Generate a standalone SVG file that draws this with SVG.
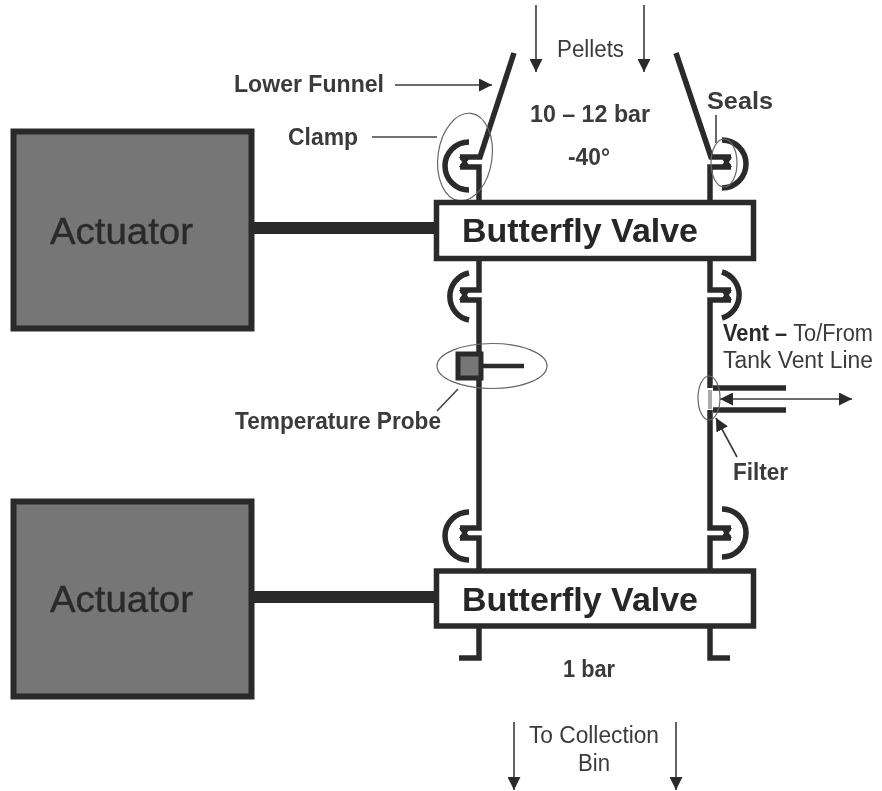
<svg xmlns="http://www.w3.org/2000/svg" width="882" height="791" viewBox="0 0 882 791">
<defs>
<marker id="ah" viewBox="0 0 10 10" refX="10" refY="5" markerWidth="13" markerHeight="13" markerUnits="userSpaceOnUse" orient="auto-start-reverse"><path d="M0 0L10 5L0 10Z" fill="#2b2b2b"/></marker>
<filter id="soft" filterUnits="userSpaceOnUse" x="0" y="0" width="882" height="791"><feGaussianBlur stdDeviation="0.55"/></filter>
</defs>
<style>
text{font-family:"Liberation Sans",Arial,sans-serif;fill:#333}
.b{font-weight:700;fill:#2a2a2a}
.lab{font-size:23px;fill:#3a3a3a}
.big{font-size:34px;font-weight:700;fill:#262626}
.act{font-size:36px;fill:#2a2a2a;stroke:#2a2a2a;stroke-width:0.4}
.pipe{fill:none;stroke:#2b2b2b;stroke-width:5.500}
.thin{fill:none;stroke:#444;stroke-width:1.6}
.arr{fill:none;stroke:#3a3a3a;stroke-width:1.6;marker-end:url(#ah)}
.ell{fill:none;stroke:#666;stroke-width:1.2}
.actbox{fill:#767676;stroke:#2b2b2b;stroke-width:6}
.valve{fill:#fff;stroke:#2b2b2b;stroke-width:5.500}
</style>
<rect width="882" height="791" fill="#fff"/>
<g filter="url(#soft)">
<g id="connectors">
<path class="pipe" style="stroke-width:12" d="M252 228H436M252 597H436"/>
<path class="pipe" d="M514 53L480 157H460M460 167H479V202"/>
<path class="pipe" d="M676 53L711 157H731M731 167H710V202"/>
<path class="pipe" d="M479 259V290H460M460 300H479V528H460M460 538H479V570"/>
<path class="pipe" d="M710 259V290H731M731 300H710V388M710 410V528H731M731 538H710V570"/>
<path class="pipe" d="M479 626V658H459M710 626V658H730"/>
<path class="pipe" d="M713 388H786M713 410H786"/>
<path class="pipe" style="stroke-width:4.500" d="M482 366H524"/>
<path class="arr" d="M536 5V72"/>
<path class="arr" d="M644 5V72"/>
<path class="arr" d="M395 85H492"/>
<path class="arr" d="M514 722V790"/>
<path class="arr" d="M676 722V790"/>
<path class="arr" d="M720 399H852" style="marker-start:url(#ah)"/>
<path class="arr" d="M737 457L716 418"/>
<path class="thin" d="M372 137H437M716 115V143M458 389L437 411"/>
</g>
<g id="clamps">
<path class="pipe" d="M469 142A24 24 0 0 0 469 190M469 273A24 24 0 0 0 469 320M469 512A24 24 0 0 0 469 560"/>
<path class="pipe" d="M722 140A24 24 0 0 1 722 188M722 272A24 24 0 0 1 722 318M722 509A24 24 0 0 1 722 557"/>
<path fill="#2b2b2b" d="M459 157h11l-3 5l3 5h-11l3-5zM459 290h11l-3 5l3 5h-11l3-5zM459 528h11l-3 5l3 5h-11l3-5zM721 157h11l-3 5l3 5h-11l3-5zM721 290h11l-3 5l3 5h-11l3-5zM721 528h11l-3 5l3 5h-11l3-5z"/>
</g>
<g id="highlights">
<ellipse class="ell" cx="465" cy="157" rx="27" ry="44" transform="rotate(8 465 157)"/>
<ellipse class="ell" cx="724" cy="163" rx="13" ry="24"/>
<ellipse class="ell" cx="492" cy="366" rx="55" ry="22.500"/>
<ellipse class="ell" cx="709" cy="398" rx="11" ry="22"/>
</g>
<g id="actuator-top"><rect class="actbox" x="13.500" y="131.500" width="238" height="197"/><text class="act" x="50" y="244" textLength="143" lengthAdjust="spacingAndGlyphs">Actuator</text></g>
<g id="actuator-bottom"><rect class="actbox" x="13.500" y="501.500" width="238" height="195"/><text class="act" x="50" y="612" textLength="143" lengthAdjust="spacingAndGlyphs">Actuator</text></g>
<g id="valve-top"><rect class="valve" x="436.500" y="202.500" width="317" height="56"/><text class="big" x="462" y="242" textLength="236" lengthAdjust="spacingAndGlyphs">Butterfly Valve</text></g>
<g id="valve-bottom"><rect class="valve" x="436.500" y="571" width="317" height="55"/><text class="big" x="462" y="611" textLength="236" lengthAdjust="spacingAndGlyphs">Butterfly Valve</text></g>
<g id="probe"><rect x="458" y="354" width="23" height="24" fill="#767676" stroke="#2b2b2b" stroke-width="5"/></g>
<g id="filter"><rect x="708" y="390" width="4" height="19" fill="#aaa"/></g>
<g id="labels">
<text class="lab" x="557" y="57" textLength="67" lengthAdjust="spacingAndGlyphs">Pellets</text>
<text class="lab b" x="234" y="92" textLength="150" lengthAdjust="spacingAndGlyphs">Lower Funnel</text>
<text class="lab b" x="288" y="145" textLength="70" lengthAdjust="spacingAndGlyphs">Clamp</text>
<text class="lab b" x="530" y="122" textLength="120" lengthAdjust="spacingAndGlyphs">10 – 12 bar</text>
<text class="lab b" x="568" y="165" textLength="42" lengthAdjust="spacingAndGlyphs">-40°</text>
<text class="lab b" x="707" y="109" textLength="66" lengthAdjust="spacingAndGlyphs">Seals</text>
<text class="lab" x="723" y="341" textLength="150" lengthAdjust="spacingAndGlyphs"><tspan class="b">Vent – </tspan>To/From</text>
<text class="lab" x="723" y="368" textLength="150" lengthAdjust="spacingAndGlyphs">Tank Vent Line</text>
<text class="lab b" x="235" y="429" textLength="206" lengthAdjust="spacingAndGlyphs">Temperature Probe</text>
<text class="lab b" x="733" y="480" textLength="55" lengthAdjust="spacingAndGlyphs">Filter</text>
<text class="lab b" x="563" y="677" textLength="52" lengthAdjust="spacingAndGlyphs">1 bar</text>
<text class="lab" x="529" y="743" textLength="130" lengthAdjust="spacingAndGlyphs">To Collection</text>
<text class="lab" x="578" y="771" textLength="32" lengthAdjust="spacingAndGlyphs">Bin</text>
</g>
</g>
</svg>
